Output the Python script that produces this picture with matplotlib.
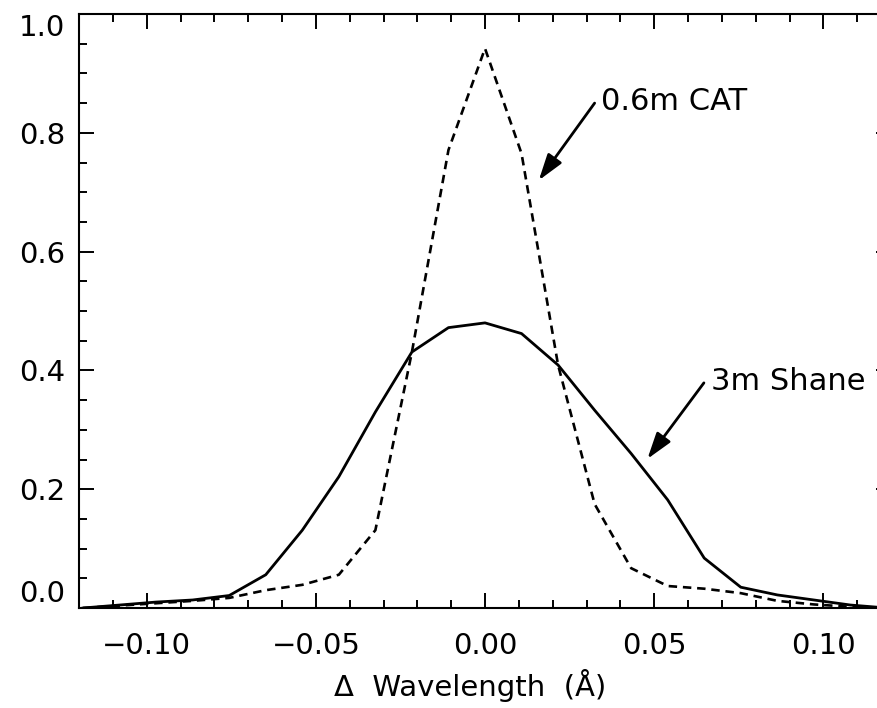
import matplotlib
matplotlib.use('Agg')
import matplotlib.pyplot as plt
from matplotlib.ticker import MultipleLocator

# wavelength offsets (Angstrom), sampled every ~0.0108
dwave = [-0.1188, -0.108, -0.0972, -0.0864, -0.0756, -0.0648, -0.054, -0.0432,
         -0.0324, -0.0216, -0.0108, 0.0, 0.0108, 0.0216, 0.0324, 0.0432,
         0.054, 0.0648, 0.0756, 0.0864, 0.0972, 0.108, 0.1188]

# 3m Shane profile (solid)
shane = [0.0, 0.005, 0.010, 0.0135, 0.021, 0.056, 0.131, 0.221,
         0.330, 0.431, 0.472, 0.480, 0.462, 0.409, 0.333, 0.260,
         0.182, 0.084, 0.035, 0.022, 0.0135, 0.005, 0.0]

# 0.6m CAT profile (dashed)
cat = [0.0, 0.004, 0.008, 0.012, 0.017, 0.030, 0.039, 0.056,
       0.131, 0.431, 0.771, 0.942, 0.765, 0.409, 0.175, 0.067,
       0.037, 0.0325, 0.025, 0.012, 0.006, 0.002, 0.0]

fig = plt.figure(figsize=(8.77, 7.08), dpi=100)
# right edge of the original frame is cropped off the picture
ax = fig.add_axes([79 / 877, 100 / 708, 812 / 877, 594 / 708])

ax.plot(dwave, shane, color='black', linewidth=2.0)
ax.plot(dwave, cat, color='black', linewidth=1.9, dashes=(3.2, 2.2))

ax.set_xlim(-0.12, 0.12)
ax.set_ylim(0.0, 1.0)

ax.xaxis.set_major_locator(MultipleLocator(0.05))
ax.xaxis.set_minor_locator(MultipleLocator(0.01))
ax.yaxis.set_major_locator(MultipleLocator(0.2))
ax.yaxis.set_minor_locator(MultipleLocator(0.05))
ax.xaxis.set_major_formatter(plt.FuncFormatter(lambda v, p: f'{v:.2f}'.replace('-', '\u2212')))
ax.yaxis.set_major_formatter(plt.FuncFormatter(lambda v, p: f'{v:.1f}'))

ax.tick_params(which='both', direction='in', top=True, right=True, width=1.4,
               labelsize=21)
ax.tick_params(which='major', length=11)
ax.tick_params(which='minor', length=5.5)
ax.tick_params(axis='x', which='major', pad=17)
ax.tick_params(axis='y', which='major', pad=10)
for s in ax.spines.values():
    s.set_linewidth(1.5)

fig.canvas.draw()
for lab in ax.get_yticklabels():
    if lab.get_text() == '1.0':
        lab.set_verticalalignment('top')
    elif lab.get_text() == '0.0':
        lab.set_verticalalignment('bottom')

ax.set_xlabel('\u0394  Wavelength  (\u00c5)', fontsize=21)
ax.xaxis.set_label_coords(0.482, -0.102)

arrow = dict(arrowstyle='-|>,head_length=1.0,head_width=0.32', color='black',
             lw=2.0, mutation_scale=16, shrinkA=0, shrinkB=0)
ax.annotate('', xy=(0.0159, 0.72), xytext=(0.0324, 0.850), arrowprops=arrow)
ax.text(0.0344, 0.852, '0.6m CAT', fontsize=22, ha='left', va='center')
ax.annotate('', xy=(0.048, 0.251), xytext=(0.0647, 0.379), arrowprops=arrow)
ax.text(0.0668, 0.382, '3m Shane', fontsize=22, ha='left', va='center')

fig.savefig('out.png', dpi=100)
